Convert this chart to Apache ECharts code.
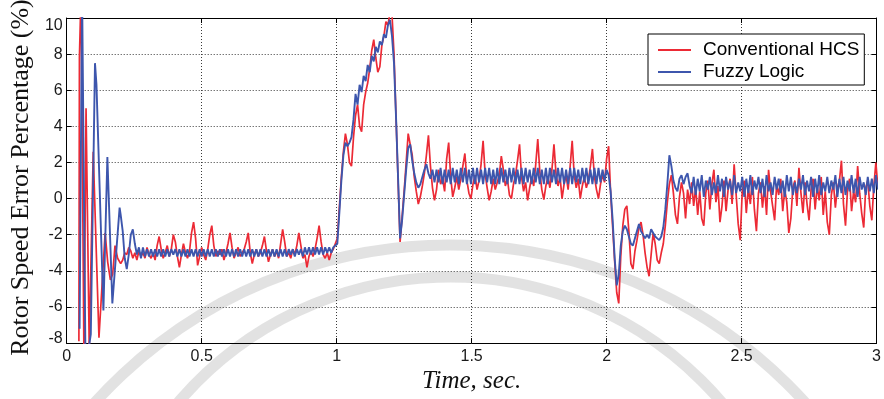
<!DOCTYPE html>
<html>
<head>
<meta charset="utf-8">
<script src="https://cdn.jsdelivr.net/npm/echarts@6/dist/echarts.min.js"></script>
<style>
html,body{margin:0;padding:0;background:#fff;}
#chart{width:884px;height:399px;}
</style>
</head>
<body>
<div id="chart"></div>
<script>
// ---------------- DATA ----------------
const seriesNames = ['Conventional HCS', 'Fuzzy Logic'];
const xTicks = [0, 0.5, 1, 1.5, 2, 2.5, 3];
const yTicks = [-8, -6, -4, -2, 0, 2, 4, 6, 8, 10];

// start-up transient (irregular sample times, s)
const redEarlyT = [0.0452, 0.0471, 0.0533, 0.0640, 0.0717, 0.0835, 0.0982, 0.1195, 0.1423, 0.1518, 0.1618, 0.1702, 0.1790, 0.1886];
const redEarlyV = [-7.9, 7.8, 11.5, -9.0, 5.0, -8.3, 2.6, -7.7, -1.9, -3.5, -4.5, -4.2, -2.6, -3.3];
const blueEarlyT = [0.0478, 0.0570, 0.0699, 0.0893, 0.1048, 0.1103, 0.1360, 0.1507, 0.1691, 0.1960];
const blueEarlyV = [-7.2, 11.5, -9.5, -7.5, 7.5, 6.3, -6.2, 2.3, -5.8, -0.5];

// regularly sampled segments (sample step 0.0075 s)
const sampleStep = 0.0075;
const settleStart = 0.2, rampStart = 1.0025, plateauStart = 1.3025, dipStart = 2.015, tailStart = 2.315;

const redSettle = [-3.6,-3.4,-3.0,-3.1,-2.7,-2.9,-3.3,-3.0,-3.4,-2.9,
-3.2,-3.0,-3.3,-2.7,-3.1,-3.3,-3.0,-3.4,-2.6,-2.1,
-2.8,-3.3,-3.0,-2.6,-3.2,-2.8,-2.0,-2.4,-3.2,-3.8,
-3.1,-2.5,-3.0,-3.3,-2.9,-1.9,-1.3,-2.2,-3.7,-3.2,
-2.7,-3.1,-3.4,-2.8,-2.0,-1.5,-2.6,-3.2,-2.9,-3.1,
-2.8,-3.4,-3.0,-2.5,-1.9,-2.7,-3.3,-3.0,-2.7,-3.2,
-3.0,-2.8,-2.4,-1.9,-3.0,-3.6,-3.1,-2.8,-3.2,-3.0,
-2.6,-2.1,-2.9,-3.5,-3.1,-2.8,-3.2,-2.9,-3.3,-2.5,
-1.7,-2.4,-3.2,-3.0,-3.3,-2.8,-3.1,-2.6,-1.9,-2.6,
-3.3,-3.1,-3.8,-3.2,-2.9,-3.2,-2.8,-2.2,-1.5,-2.4,
-3.1,-3.3,-3.0,-3.4,-3.0,-2.8,-2.5];
const blueSettle = [-0.9,-1.8,-3.3,-3.9,-3.1,-2.0,-1.7,-2.5,-3.1,-2.7,
-3.3,-2.7,-3.2,-2.8,-3.2,-2.8,-3.2,
-2.8,-3.2,-2.8,-3.2,-2.8,-3.2,-2.8,-3.2,-2.8,-3.1,
-2.8,-3.2,-2.8,-3.2,-2.8,-3.2,-2.8,-3.2,-2.8,-3.2,
-2.8,-3.2,-2.8,-3.2,-2.8,-3.2,-2.8,-3.2,-2.8,-3.2,
-2.8,-3.2,-2.8,-3.2,-2.8,-3.2,-2.8,-3.2,-2.8,-3.2,
-2.8,-3.2,-2.8,-3.2,-2.8,-3.2,-2.8,-3.2,-2.8,-3.2,
-2.8,-3.2,-2.8,-3.2,-2.8,-3.2,-2.8,-3.2,-2.8,-3.2,
-2.8,-3.2,-2.8,-3.2,-2.8,-3.2,-2.8,-3.1,-2.8,-3.2,
-2.8,-3.1,-2.8,-3.2,-2.7,-3.1,-2.7,-3.1,-2.7,-3.1,
-2.7,-3.1,-2.7,-3.1,-2.7,-3.0,-2.7,-3.0,-2.7,-2.6];

const redRamp = [-2.2,-0.5,1.2,2.6,3.6,3.0,2.0,1.8,3.4,4.6,
5.2,4.0,3.7,5.2,5.9,6.4,7.2,8.2,8.8,7.8,
7.0,7.3,8.5,9.0,9.8,9.6,10.3,10.2,8.0,4.5,
1.0,-2.4,-1.0,0.4,2.0,3.6,3.0,2.4,1.2,0.4];
const blueRamp = [-2.5,-0.8,1.0,2.4,3.1,2.9,3.1,3.4,4.4,5.8,
5.2,6.3,5.9,6.8,6.5,7.4,7.0,7.9,7.6,8.4,
8.1,8.7,8.5,9.1,8.9,9.6,9.9,9.0,7.5,4.5,
1.2,-2.2,-1.2,0.2,1.6,2.8,3.0,2.1,1.4,0.9];

const redPlateau = [-0.3,0.1,0.7,1.4,2.4,3.5,1.8,0.6,-0.1,0.5,
1.6,0.8,1.1,0.4,2.2,3.1,1.2,0.1,0.6,1.2,
0.5,1.1,1.8,2.5,1.0,0.3,0.0,0.8,1.3,0.5,
1.0,1.9,3.2,1.4,0.6,-0.1,0.4,1.1,0.5,0.9,
1.3,2.35,1.6,0.7,1.1,0.2,0.0,0.8,1.3,2.1,
3.0,1.2,0.4,0.9,-0.1,0.6,1.2,0.7,1.9,3.3,
1.5,0.5,-0.05,0.7,1.2,0.6,1.6,3.0,1.4,0.7,
1.2,0.0,0.8,1.3,0.5,1.8,3.2,1.3,0.6,1.1,
0.0,0.7,1.2,0.6,1.0,1.8,2.75,1.2,0.5,0.0,
0.8,1.3,0.9,2.2,2.9];
const bluePlateau = [0.6,0.8,1.2,1.6,1.9,1.4,1.1,1.6,0.9,
1.6,0.9,1.7,0.8,1.6,0.9,1.6,0.8,1.7,0.9,
1.6,0.8,1.7,0.9,1.7,0.8,1.6,0.8,1.7,0.8,
1.7,0.9,1.6,0.8,1.7,0.9,1.7,0.8,1.6,0.8,
1.7,0.8,1.7,0.9,1.6,0.8,1.7,0.9,1.7,0.8,
1.6,0.8,1.7,0.8,1.7,0.9,1.6,0.8,1.7,0.9,
1.7,0.8,1.6,0.8,1.7,0.8,1.7,0.9,1.6,0.8,
1.7,0.9,1.7,0.8,1.6,0.8,1.7,0.8,1.7,0.9,
1.6,0.8,1.7,0.9,1.7,0.8,1.6,0.8,1.7,0.8,
1.7,0.9,1.6,1.0,1.6,
1.3];

const redDip = [0.3,-1.6,-3.5,-5.2,-5.8,-3.2,-1.5,-0.6,-0.4,-1.8,
-3.6,-3.9,-2.9,-2.3,-1.6,-1.3,-2.0,-3.0,-3.8,-4.3,
-3.1,-1.9,-2.5,-3.4,-3.6,-3.0,-2.5,-1.5,-0.2,0.8,
1.3,0.3,-0.9,-1.4,0.1,0.9,0.3,-1.1,0.5,-0.3];
const blueDip = [0.4,-1.2,-3.3,-4.8,-4.2,-2.6,-1.8,-1.5,-1.7,-2.1,
-2.5,-2.6,-2.2,-1.8,-1.4,-1.8,-2.0,-2.2,-2.0,-2.2,
-1.7,-1.9,-2.1,-2.2,-2.3,-2.1,-1.6,-0.6,0.8,2.4,
1.8,1.0,0.6,0.4,1.1,1.3,0.8,1.2,1.4,0.7];

const redTail = [0.9,-0.4,0.6,-0.9,0.4,-1.1,-1.5,0.3,1.0,-0.6,
0.8,1.6,-0.2,0.7,-1.3,-0.4,1.0,-0.7,0.5,1.1,
-0.3,1.9,0.2,-1.4,-2.3,0.4,1.0,-0.8,0.6,-0.3,
1.2,-0.6,-1.8,0.3,0.9,-0.5,0.7,-0.9,1.6,0.4,
-0.4,-1.2,0.8,0.2,1.1,-0.7,0.5,-0.2,-1.9,-1.1,
0.6,1.0,-0.4,1.7,0.3,-0.8,0.9,-0.3,-1.2,0.5,
1.1,-0.6,0.7,-0.1,1.2,-0.9,0.4,-1.3,-2.0,0.2,
0.9,-0.5,0.6,1.0,2.1,-0.3,-1.5,0.5,1.1,-0.7,
0.4,-0.2,1.8,0.3,-0.8,-1.6,0.6,1.0,-0.4,-1.2,
0.7,2.0,0.6];
const blueTail = [0.3,1.2,0.2,1.1,0.4,1.3,0.1,1.0,0.5,1.2,
0.2,0.9,0.3,1.3,0.4,1.1,0.1,1.2,0.5,1.0,
0.2,1.3,0.3,0.9,0.4,1.2,0.1,1.1,0.3,1.3,
0.2,1.0,0.5,1.2,0.3,1.1,0.1,1.3,0.4,0.9,
0.2,1.2,0.5,1.1,0.3,1.0,0.1,1.3,0.4,1.2,
0.2,0.9,0.3,1.1,0.5,1.3,0.2,1.0,0.4,1.2,
0.1,1.1,0.3,1.3,0.2,0.9,0.4,1.2,0.3,1.0,
0.5,1.3,0.1,1.1,0.3,1.2,0.2,1.0,0.4,1.3,
0.3,1.1,0.1,1.2,0.5,0.9,0.2,1.2,0.4,1.1,
0.3,1.3,0.5];

// ---------------- build series data ----------------
function pairs(ts, vs) { return ts.map((t, k) => [t, vs[k]]); }
function seg(t0, vs) { return vs.map((v, k) => [+(t0 + k * sampleStep).toFixed(4), v]); }

const redData = pairs(redEarlyT, redEarlyV).concat(
  seg(settleStart, redSettle), seg(rampStart, redRamp), seg(plateauStart, redPlateau),
  seg(dipStart, redDip), seg(tailStart, redTail));
const blueData = pairs(blueEarlyT, blueEarlyV).concat(
  seg(settleStart, blueSettle), seg(rampStart, blueRamp), seg(plateauStart, bluePlateau),
  seg(dipStart, blueDip), seg(tailStart, blueTail));

// ---------------- chart ----------------
const SANS = '"Liberation Sans", Arial, Helvetica, sans-serif';
const SERIF = '"Liberation Serif", "Times New Roman", serif';
const RED = '#ec2a35', BLUE = '#3d56ad';
const frame = { show: true, onZero: false, lineStyle: { color: '#000', width: 1 } };
const inTick = { show: true, inside: true, length: 5, lineStyle: { color: '#000', width: 1 } };
const dotted = { show: true, lineStyle: { color: '#3a3a3a', width: 1, type: [1, 2] } };
const wm = 'rgba(150,150,150,0.28)';

const chart = echarts.init(document.getElementById('chart'), null, { renderer: 'canvas' });
chart.setOption({
  animation: false,
  backgroundColor: '#fff',
  grid: { left: 62, right: 6, top: 18, bottom: 41, containLabel: false },
  // faint watermark arcs of the scanned page (decoration, behind everything)
  graphic: [
    { type: 'arc', z: -10, silent: true, shape: { cx: 450, cy: 724, r: 479, startAngle: -2.7, endAngle: -0.45, clockwise: true },
      style: { stroke: wm, lineWidth: 11, fill: null } },
    { type: 'arc', z: -10, silent: true, shape: { cx: 450, cy: 634, r: 357, startAngle: -2.8, endAngle: -0.35, clockwise: true },
      style: { stroke: wm, lineWidth: 11, fill: null } }
  ],
  legend: {
    orient: 'vertical', left: 648, top: 34,
    itemWidth: 33, itemHeight: 2, itemGap: 2,
    padding: [6, 5, 3, 10],
    borderColor: '#000', borderWidth: 1, backgroundColor: '#fff',
    textStyle: { fontFamily: SANS, fontSize: 19, color: '#000', lineHeight: 20, padding: [0, 0, 0, 7] },
    data: [{ name: seriesNames[0], icon: 'rect' }, { name: seriesNames[1], icon: 'rect' }]
  },
  xAxis: [{
    type: 'value', position: 'bottom', min: xTicks[0], max: xTicks[xTicks.length - 1], interval: 0.5,
    axisLine: frame, axisTick: inTick, splitLine: dotted,
    axisLabel: { color: '#1a1a1a', fontFamily: SANS, fontSize: 16, margin: 5 },
    name: 'Time, sec.', nameLocation: 'middle', nameGap: 16,
    nameTextStyle: { fontFamily: SERIF, fontStyle: 'italic', fontSize: 25, color: '#111' }
  }, {
    type: 'value', position: 'top', min: xTicks[0], max: xTicks[xTicks.length - 1], interval: 0.5,
    axisLine: frame, axisTick: inTick, splitLine: { show: false }, axisLabel: { show: false }
  }],
  yAxis: [{
    type: 'value', position: 'left', min: yTicks[0], max: yTicks[yTicks.length - 1], interval: 2,
    axisLine: frame, axisTick: inTick, splitLine: dotted,
    axisLabel: {
      color: '#1a1a1a', fontFamily: SANS, fontSize: 16, margin: 4,
      formatter: function (v) {
        if (v === yTicks[yTicks.length - 1]) return '{t|' + v + '}';
        if (v === yTicks[0]) return '{b|' + v + '}';
        return String(v);
      },
      rich: {
        t: { color: '#1a1a1a', fontFamily: SANS, fontSize: 16, padding: [16, 0, 0, 0] },
        b: { color: '#1a1a1a', fontFamily: SANS, fontSize: 16, padding: [0, 0, 10, 0] }
      }
    },
    name: 'Rotor Speed Error Percentage (%)', nameLocation: 'middle', nameGap: 29, nameRotate: 90,
    nameTextStyle: { fontFamily: SERIF, fontSize: 26, color: '#111', padding: [0, 0, 0, 6] }
  }, {
    type: 'value', position: 'right', min: yTicks[0], max: yTicks[yTicks.length - 1], interval: 2,
    axisLine: frame, axisTick: inTick, splitLine: { show: false }, axisLabel: { show: false }
  }],
  series: [{
    name: seriesNames[0], type: 'line', data: redData, xAxisIndex: 0, yAxisIndex: 0,
    symbol: 'none', showSymbol: false, clip: true, z: 3,
    lineStyle: { color: RED, width: 1.7 }, itemStyle: { color: RED }
  }, {
    name: seriesNames[1], type: 'line', data: blueData, xAxisIndex: 0, yAxisIndex: 0,
    symbol: 'none', showSymbol: false, clip: true, z: 4,
    lineStyle: { color: BLUE, width: 1.9 }, itemStyle: { color: BLUE }
  }]
});
</script>
</body>
</html>
